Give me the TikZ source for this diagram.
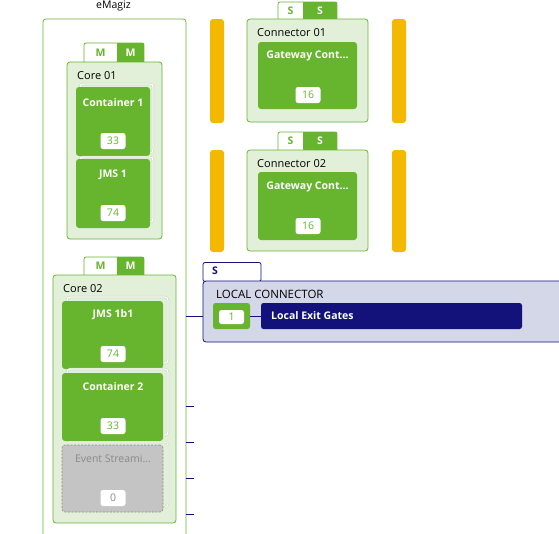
\documentclass[tikz,border=0pt]{standalone}
\usepackage{fontspec}
\setmainfont{Open Sans}
\definecolor{eg}{HTML}{67B42F}
\definecolor{elg}{HTML}{E2F0D9}
\definecolor{eyel}{HTML}{F5B800}
\definecolor{enavy}{HTML}{12127A}
\definecolor{elav}{HTML}{D4D7E8}
\definecolor{egray}{HTML}{C4C4C4}
\definecolor{egtxt}{HTML}{8A8A8A}
\definecolor{eedge}{HTML}{B9CCAE}
\begin{document}
\begin{tikzpicture}[x=1pt,y=-1pt,
  bx/.style n args={2}{inner sep=0pt, outer sep=0pt, minimum width=#1pt, minimum height=#2pt, rounded corners=3pt},
  group/.style={draw=eg, fill=elg, line width=0.8pt},
  back/.style={draw=white, line width=1.3pt, preaction={draw=eedge, line width=2.1pt}},
  comp/.style={fill=eg},
  ybar/.style={fill=eyel, rounded corners=3pt},
  title/.style={font=\fontsize{10.5}{12}\selectfont\bfseries, text=white},
  lbl/.style={font=\fontsize{11}{13}\selectfont, text=black, anchor=west, inner sep=0pt},
  badge/.style={fill=white, rounded corners=2.5pt, minimum width=25pt, minimum height=16pt, inner sep=0pt, font=\fontsize{10.5}{12}\selectfont, text=eg},
  tabl/.style={fill=white, inner sep=0pt, font=\fontsize{10.5}{12}\selectfont\bfseries, text=eg},
  tabr/.style={fill=eg, inner sep=0pt, font=\fontsize{10.5}{12}\selectfont\bfseries, text=white},
  tabline/.style={draw=eg, line width=0.8pt, rounded corners=2pt},
  nv/.style={draw=enavy, line width=0.8pt}
]
\useasboundingbox (0,0) rectangle (559,533);

% eMagiz outer box
\node[bx={143}{530}, draw=eg, line width=0.8pt] (emagiz) at (114.5,284) {};
\node[font=\fontsize{10.5}{12}\selectfont, inner sep=0pt] (emagizlbl) at (113.5,6) {eMagiz};

% ---- Core 01
\node[tabl, minimum width=33pt, minimum height=19pt] (c1tabl) at (100.5,52.5) {M};
\node[tabr, minimum width=27pt, minimum height=19pt] (c1tabr) at (130.5,52.5) {M};
\draw[tabline] (84,62) -- (84,43) -- (144,43) -- (144,62);
\node[bx={95}{177}, group] (core1) at (114.5,150.5) {};
\node[lbl] (core1lbl) at (77,76) {Core 01};
\node[bx={73}{69}, back] (cont1b) at (116.5,118.5) {};
\node[bx={74}{69}, comp] (cont1) at (113,121.5) {};
\node[title] (cont1t) at (113,103) {Container 1};
\node[badge] (cont1n) at (113,141) {33};
\node[bx={73}{65}, back] (jms1b) at (116.5,189.5) {};
\node[bx={74}{69}, comp] (jms1) at (113,193.5) {};
\node[title] (jms1t) at (113,175) {JMS 1};
\node[badge] (jms1n) at (113,213) {74};

% ---- Yellow bars
\node[bx={14}{104}, ybar] (y1) at (217,71) {};
\node[bx={14}{104}, ybar] (y2) at (399,71) {};
\node[bx={14}{102}, ybar] (y3) at (217,201) {};
\node[bx={14}{102}, ybar] (y4) at (399,201) {};

% ---- Connector 01
\node[tabl, minimum width=25pt, minimum height=17pt] (k1tabl) at (290.5,10.5) {S};
\node[tabr, minimum width=34pt, minimum height=17pt] (k1tabr) at (320,10.5) {S};
\draw[tabline] (278,19) -- (278,2) -- (337,2) -- (337,19);
\node[bx={121}{103}, group] (conn1) at (307.5,70.5) {};
\node[lbl] (conn1lbl) at (257,33) {Connector 01};
\node[bx={99}{67}, comp] (gw1) at (307.5,75.5) {};
\node[title] (gw1t) at (307.5,56) {Gateway Cont...};
\node[badge] (gw1n) at (308,95) {16};

% ---- Connector 02
\node[tabl, minimum width=25pt, minimum height=18pt] (k2tabl) at (290.5,141) {S};
\node[tabr, minimum width=34pt, minimum height=18pt] (k2tabr) at (320,141) {S};
\draw[tabline] (278,150) -- (278,132) -- (337,132) -- (337,150);
\node[bx={121}{101}, group] (conn2) at (307.5,200.5) {};
\node[lbl] (conn2lbl) at (257,164) {Connector 02};
\node[bx={99}{68}, comp] (gw2) at (307.5,206) {};
\node[title] (gw2t) at (307.5,187) {Gateway Cont...};
\node[badge] (gw2n) at (308,226) {16};

% ---- Core 02
\node[tabl, minimum width=33pt, minimum height=18pt] (c2tabl) at (100.5,266) {M};
\node[tabr, minimum width=27pt, minimum height=18pt] (c2tabr) at (130.5,266) {M};
\draw[tabline] (84,275) -- (84,257) -- (144,257) -- (144,275);
\node[bx={123}{248}, group] (core2) at (114.5,399) {};
\node[lbl] (core2lbl) at (63,289) {Core 02};
\node[bx={101}{66}, back] (jmsb) at (117.5,330) {};
\node[bx={101}{68}, comp] (jmsbb) at (112.5,335) {};
\node[title] (jmsbbt) at (113,315) {JMS 1b1};
\node[badge] (jmsbbn) at (113,354) {74};
\node[bx={101}{66}, back] (cont2b) at (117.5,402) {};
\node[bx={101}{68}, comp] (cont2) at (112.5,407) {};
\node[title] (cont2t) at (113,387) {Container 2};
\node[badge] (cont2n) at (113,426) {33};
\node[bx={101}{65}, draw=white, line width=1.2pt, dash pattern=on 2pt off 1pt, preaction={draw=eedge, line width=2pt, dash pattern=on 2pt off 1pt}] (evb) at (117.5,474.5) {};
\node[bx={101}{67}, fill=egray, draw=egtxt, line width=0.6pt, dash pattern=on 2pt off 1.5pt] (ev) at (112.5,478.5) {};
\node[font=\fontsize{10.5}{12}\selectfont, text=egtxt] (evt) at (113,459) {Event Streami...};
\node[badge, text=egtxt] (evn) at (113,498) {0};

% ---- Local connector
\node[bx={58}{19}, fill=white, draw=enavy, line width=0.8pt, rounded corners=2pt] (lctab) at (232,272) {};
\node[font=\fontsize{10.5}{12}\selectfont\bfseries, text=enavy, inner sep=0pt] (lctabs) at (215,271) {S};
\node[bx={367}{61}, fill=elav, draw=enavy, line width=0.8pt] (lc) at (386.5,311.5) {};
\node[lbl, font=\fontsize{11.5}{13}\selectfont] (lclbl) at (216,294) {LOCAL CONNECTOR};
\node[bx={37}{26}, comp, rounded corners=2.5pt] (lcg) at (231.5,316) {};
\node[badge, minimum height=14pt] (lcn) at (231.5,317) {1};
\node[bx={261}{26}, fill=enavy, rounded corners=2.5pt] (leg) at (391.5,316) {};
\node[title, anchor=west, inner sep=0pt] (legt) at (271,316) {Local Exit Gates};

% ---- Navy connectors
\coordinate (t0) at (186,316);
\draw[nv] (t0) -- (t0 -| lc.west);
\draw[nv] (lcg.east) -- (leg.west);
\foreach \yy/\nm in {406/t1,442/t2,478/t3,514/t4}{
  \coordinate (\nm a) at (186,\yy);
  \coordinate (\nm b) at (194,\yy);
  \draw[nv] (\nm a) -- (\nm b);
}
\end{tikzpicture}
\end{document}
